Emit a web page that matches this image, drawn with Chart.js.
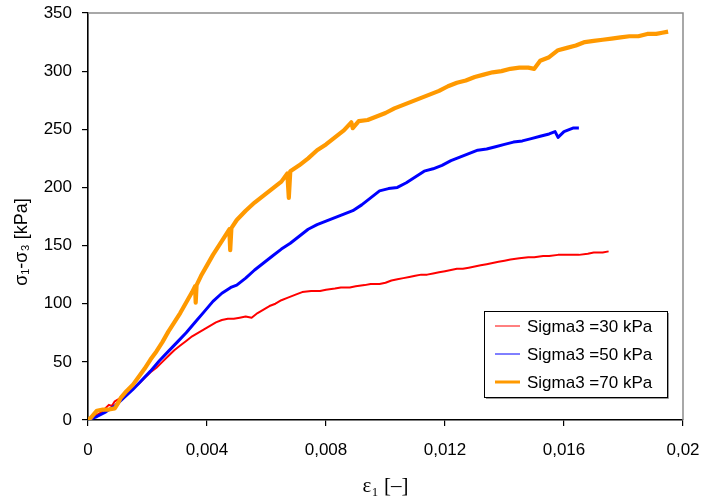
<!DOCTYPE html>
<html>
<head>
<meta charset="utf-8">
<script src="https://cdn.jsdelivr.net/npm/chart.js@4/dist/chart.umd.min.js"></script>
<style>
  html, body { margin: 0; padding: 0; background: #fff; }
  #wrap { width: 703px; height: 499px; position: relative; }
</style>
</head>
<body>
<div id="wrap"><canvas id="c" width="703" height="499"></canvas></div>
<script>
// Deviator stress vs axial strain, triaxial tests at three confining pressures
const seriesLabels = ['Sigma3 =30 kPa', 'Sigma3 =50 kPa', 'Sigma3 =70 kPa'];
const xTicks = [0, 0.004, 0.008, 0.012, 0.016, 0.02];
const xTickLabels = ['0', '0,004', '0,008', '0,012', '0,016', '0,02'];
const yTicks = [0, 50, 100, 150, 200, 250, 300, 350];
const xTitle = 'ε₁ [–]';
const yTitle = 'σ₁-σ₃ [kPa]';

// [axial strain, deviator stress kPa]
const sigma30 = [
  [0,0],[0.0001,2],[0.0002,3],[0.0004,6],[0.0005,8],[0.0007,13],[0.0008,12],[0.0009,16],[0.0011,19],[0.0013,23],
  [0.0015,27],[0.0017,31],[0.0019,36],[0.0021,41],[0.0023,45],[0.0025,50],[0.0027,55],[0.0029,60],[0.0031,64],
  [0.0033,68],[0.0035,72],[0.0037,75],[0.0039,78],[0.0041,81],[0.0043,84],[0.0045,86],[0.0047,87],[0.0049,87],
  [0.0051,88],[0.0053,89],[0.0055,88],[0.0057,92],[0.0059,95],[0.0061,98],[0.0063,100],[0.0065,103],
  [0.0067,105],[0.0070,108],[0.0072,110],[0.0075,111],[0.0078,111],[0.0080,112],[0.0083,113],[0.0085,114],
  [0.0088,114],[0.0090,115],[0.0093,116],[0.0095,117],[0.0098,117],[0.0100,118],[0.0102,120],[0.0104,121],
  [0.0106,122],[0.0108,123],[0.0110,124],[0.0112,125],[0.0114,125],[0.0116,126],[0.0118,127],[0.0120,128],
  [0.0122,129],[0.0124,130],[0.0126,130],[0.0128,131],[0.0130,132],[0.0132,133],[0.0134,134],[0.0136,135],
  [0.0138,136],[0.0140,137],[0.0142,138],[0.0145,139],[0.0148,140],[0.0150,140],[0.0153,141],[0.0155,141],
  [0.0158,142],[0.0160,142],[0.0163,142],[0.0165,142],[0.0168,143],[0.0170,144],[0.0173,144],[0.0175,145]
];
const sigma50 = [
  [0,0],[0.0003,3],[0.0006,7],[0.0009,12],[0.0012,19],[0.0015,26],[0.0018,34],[0.0021,42],[0.0024,51],
  [0.0027,59],[0.0030,67],[0.0033,75],[0.0036,84],[0.0039,93],[0.0042,102],[0.0045,109],[0.0048,114],
  [0.0050,116],[0.0053,122],[0.0056,129],[0.0059,135],[0.0062,141],[0.0065,147],[0.0068,152],[0.0071,158],
  [0.0074,164],[0.0077,168],[0.0080,171],[0.0083,174],[0.0086,177],[0.0089,180],[0.0092,185],[0.0095,191],
  [0.0098,197],[0.0101,199],[0.0104,200],[0.0107,204],[0.0110,209],[0.0113,214],[0.0116,216],[0.0119,219],
  [0.0122,223],[0.0125,226],[0.0128,229],[0.0131,232],[0.0134,233],[0.0137,235],[0.0140,237],[0.0143,239],
  [0.0146,240],[0.0149,242],[0.0152,244],[0.0155,246],[0.0157,248],[0.0158,243],[0.0160,248],[0.0163,251],
  [0.0165,251]
];
const sigma70 = [
  [0,0],[0.0001,2],[0.0002,5],[0.0003,8],[0.0005,9],[0.0007,9],[0.0009,10],[0.0010,14],[0.0011,19],
  [0.0013,25],[0.0015,30],[0.0017,37],[0.0019,44],[0.0021,52],[0.0023,59],[0.0025,67],[0.0027,76],
  [0.0029,84],[0.0031,92],[0.0033,101],[0.0035,110],[0.0036,115],[0.00362,101],[0.00365,116],[0.0038,124],
  [0.0040,133],[0.0042,142],[0.0044,150],[0.0046,158],[0.00475,164],[0.00478,146],[0.00482,165],[0.0050,172],
  [0.0053,180],[0.0056,187],[0.0059,193],[0.0062,199],[0.0065,205],[0.0067,212],[0.00675,191],[0.0068,214],
  [0.0071,219],[0.0074,225],[0.0077,232],[0.0080,237],[0.0083,243],[0.0086,249],[0.00885,256],[0.0089,251],
  [0.0091,257],[0.0094,258],[0.0097,261],[0.0100,264],[0.0103,268],[0.0106,271],[0.0109,274],[0.0112,277],
  [0.0115,280],[0.0118,283],[0.0121,287],[0.0124,290],[0.0127,292],[0.0130,295],[0.0133,297],[0.0136,299],
  [0.0139,300],[0.0142,302],[0.0145,303],[0.0148,303],[0.0150,302],[0.0152,309],[0.0155,312],[0.0158,318],
  [0.0161,320],[0.0164,322],[0.0167,325],[0.0170,326],[0.0173,327],[0.0176,328],[0.0179,329],[0.0182,330],
  [0.0185,330],[0.0188,332],[0.0191,332],[0.0193,333],[0.0195,334]
];

const colors = ['#ff0000', '#0000ff', '#ff9900'];
const widths = [2, 3, 4.2];
const legendWidths = [1, 1, 3];
const seriesData = [sigma30, sigma50, sigma70];
const FONT = '"Liberation Sans", Arial, sans-serif';

const toPoints = arr => arr.map(p => ({ x: p[0], y: p[1] }));

// gray frame on top/right of plot area, vertical axis title and boxed legend
const framePlugin = {
  id: 'frameAndLegend',
  afterDatasetsDraw(chart) {
    const { ctx, chartArea: a } = chart;
    ctx.save();
    ctx.strokeStyle = '#8c8c8c';
    ctx.lineWidth = 1.5;
    ctx.beginPath();
    ctx.moveTo(a.left, a.top);
    ctx.lineTo(a.right, a.top);
    ctx.lineTo(a.right, a.bottom);
    ctx.stroke();

    // vertical axis title
    ctx.save();
    ctx.translate(22, 242);
    ctx.rotate(-Math.PI / 2);
    ctx.font = '18px ' + FONT;
    ctx.fillStyle = '#000';
    ctx.textAlign = 'center';
    ctx.textBaseline = 'middle';
    ctx.fillText(yTitle, 0, 0);
    ctx.restore();

    // legend box
    const bx = 484, by = 311, bw = 183, bh = 86;
    ctx.fillStyle = '#fff';
    ctx.fillRect(bx, by, bw, bh);
    ctx.strokeStyle = '#000';
    ctx.lineWidth = 1;
    ctx.strokeRect(bx + 0.5, by + 0.5, bw, bh);
    ctx.strokeStyle = '#9a9a9a';
    ctx.beginPath();
    ctx.moveTo(bx + bw + 1.5, by + 2);
    ctx.lineTo(bx + bw + 1.5, by + bh + 1.5);
    ctx.lineTo(bx + 2, by + bh + 1.5);
    ctx.stroke();

    ctx.font = '17px ' + FONT;
    ctx.textBaseline = 'middle';
    ctx.textAlign = 'left';
    chart.data.datasets.forEach((ds, i) => {
      const yy = by + 15 + i * 28;
      ctx.strokeStyle = ds.borderColor;
      ctx.lineWidth = legendWidths[i];
      ctx.beginPath();
      ctx.moveTo(bx + 11, yy);
      ctx.lineTo(bx + 36, yy);
      ctx.stroke();
      ctx.fillStyle = '#000';
      ctx.fillText(ds.label, bx + 43, yy + 1);
    });
    ctx.restore();
  }
};

new Chart(document.getElementById('c'), {
  type: 'scatter',
  data: {
    datasets: seriesData.map((d, i) => ({
      label: seriesLabels[i],
      data: toPoints(d),
      showLine: true,
      borderColor: colors[i],
      backgroundColor: colors[i],
      borderWidth: widths[i],
      borderJoinStyle: 'round',
      pointRadius: 0,
      tension: 0,
      order: 3 - i
    }))
  },
  options: {
    responsive: false,
    animation: false,
    layout: { padding: { top: 13, right: 20, left: 0, bottom: 0 } },
    plugins: { legend: { display: false }, tooltip: { enabled: false } },
    scales: {
      x: {
        type: 'linear',
        min: 0, max: 0.02,
        afterBuildTicks: s => { s.ticks = xTicks.map(v => ({ value: v })); },
        afterFit: s => { s.height = 79; s.paddingLeft = 0; s.paddingRight = 0; },
        ticks: {
          color: '#000',
          font: { family: FONT, size: 17 },
          padding: 14,
          maxRotation: 0,
          autoSkip: false,
          callback: (v) => { const k = xTicks.indexOf(v); return k >= 0 ? xTickLabels[k] : ''; }
        },
        grid: { drawOnChartArea: false, drawTicks: true, tickLength: 6, color: '#000', lineWidth: 1.2 },
        border: { color: '#000', width: 1.6 },
        title: {
          display: true,
          text: xTitle,
          color: '#000',
          font: { family: '"Liberation Serif", "Times New Roman", serif', size: 21 },
          padding: { top: 4, bottom: 0 }
        }
      },
      y: {
        type: 'linear',
        min: 0, max: 350,
        afterBuildTicks: s => { s.ticks = yTicks.map(v => ({ value: v })); },
        afterFit: s => { s.width = 88; s.paddingTop = 0; s.paddingBottom = 0; },
        ticks: {
          color: '#000',
          font: { family: FONT, size: 17 },
          padding: 10
        },
        grid: { drawOnChartArea: false, drawTicks: true, tickLength: 6, color: '#000', lineWidth: 1.2 },
        border: { color: '#000', width: 1.6 },
        title: { display: false }
      }
    }
  },
  plugins: [framePlugin]
});
</script>
</body>
</html>
